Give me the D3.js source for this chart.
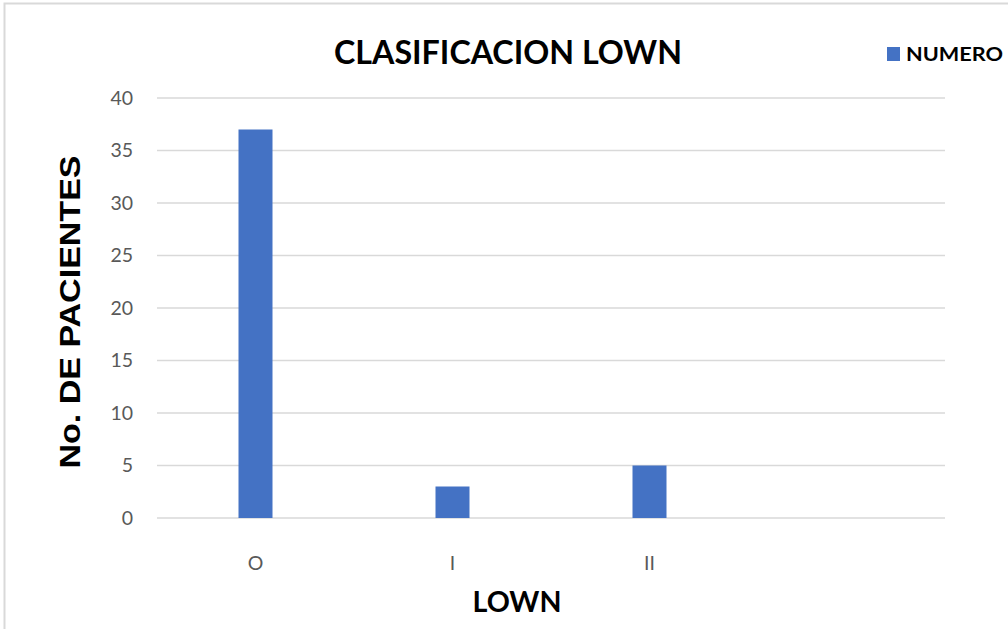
<!DOCTYPE html>
<html>
<head>
<meta charset="utf-8">
<script src="https://cdn.jsdelivr.net/npm/d3@7"></script>
<style>
  body { margin: 0; background: #fff; }
  svg { display: block; }
</style>
</head>
<body>
<svg id="chart"></svg>
<script>
// data
const categories = ["O", "I", "II", ""];
const numero = [37, 3, 5, null];
const yTicks = [0, 5, 10, 15, 20, 25, 30, 35, 40];

const W = 1008, H = 629;
const margin = { top: 98, right: 63, bottom: 111, left: 157 };

const svg = d3.select("#chart").attr("width", W).attr("height", H);

// outer chart border (only top/left visible in the crop)
svg.append("rect")
    .attr("x", 4.5).attr("y", 3.5)
    .attr("width", W + 10).attr("height", H + 10)
    .attr("fill", "none")
    .attr("stroke", "#d9d9d9")
    .attr("stroke-width", 2);

const g = svg.append("g").attr("transform", `translate(${margin.left},${margin.top})`);
const innerW = W - margin.left - margin.right;
const innerH = H - margin.top - margin.bottom;

const x = d3.scaleBand().domain(categories).range([0, innerW]);
const y = d3.scaleLinear().domain([0, 40]).range([innerH, 0]);

// gridlines
g.append("g")
    .selectAll("line")
    .data(yTicks)
    .join("line")
    .attr("x1", 0).attr("x2", innerW)
    .attr("y1", d => y(d)).attr("y2", d => y(d))
    .attr("stroke", "#d9d9d9")
    .attr("stroke-width", 1.5);

// y tick labels
const yAxis = g.append("g")
    .call(d3.axisLeft(y).tickValues(yTicks).tickSize(0).tickPadding(24));
yAxis.select(".domain").remove();
yAxis.selectAll("text")
    .attr("fill", "#595959")
    .style("font-family", "Lato, 'Open Sans', sans-serif")
    .style("font-size", "19.5px");

// x tick labels
const xAxis = g.append("g")
    .attr("transform", `translate(0,${innerH})`)
    .call(d3.axisBottom(x).tickSize(0).tickPadding(38));
xAxis.select(".domain").remove();
xAxis.selectAll("text")
    .attr("fill", "#595959")
    .style("font-family", "Lato, 'Open Sans', sans-serif")
    .style("font-size", "19.5px");

// bars
const barW = 34;
g.append("g")
    .selectAll("rect")
    .data(categories.map((c, i) => ({ cat: c, v: numero[i] })).filter(d => d.v != null))
    .join("rect")
    .attr("x", d => x(d.cat) + x.bandwidth() / 2 - barW / 2)
    .attr("y", d => y(d.v))
    .attr("width", barW)
    .attr("height", d => innerH - y(d.v))
    .attr("fill", "#4472c4");

// title
svg.append("text")
    .attr("x", 508).attr("y", 64)
    .attr("text-anchor", "middle")
    .attr("textLength", 348)
    .attr("lengthAdjust", "spacingAndGlyphs")
    .style("font-family", "Lato, 'Open Sans', sans-serif")
    .style("font-weight", "bold")
    .style("font-size", "32px")
    .attr("fill", "#000")
    .text("CLASIFICACION LOWN");

// legend
svg.append("rect")
    .attr("x", 887).attr("y", 47)
    .attr("width", 13).attr("height", 14)
    .attr("fill", "#4472c4");
svg.append("text")
    .attr("x", 906).attr("y", 61)
    .attr("textLength", 97)
    .attr("lengthAdjust", "spacingAndGlyphs")
    .style("font-family", "Lato, 'Open Sans', sans-serif")
    .style("font-weight", "bold")
    .style("font-size", "19px")
    .attr("fill", "#000")
    .text("NUMERO");

// y axis title
svg.append("text")
    .attr("transform", "translate(80,312) rotate(-90)")
    .attr("text-anchor", "middle")
    .attr("textLength", 313)
    .attr("lengthAdjust", "spacingAndGlyphs")
    .style("font-family", "'Liberation Sans', Arial, sans-serif")
    .style("font-weight", "bold")
    .style("font-size", "29px")
    .attr("fill", "#000")
    .text("No. DE PACIENTES");

// x axis title
svg.append("text")
    .attr("x", 517).attr("y", 612)
    .attr("text-anchor", "middle")
    .attr("textLength", 89)
    .attr("lengthAdjust", "spacingAndGlyphs")
    .style("font-family", "Lato, 'Open Sans', sans-serif")
    .style("font-weight", "bold")
    .style("font-size", "28px")
    .attr("fill", "#000")
    .text("LOWN");
</script>
</body>
</html>
